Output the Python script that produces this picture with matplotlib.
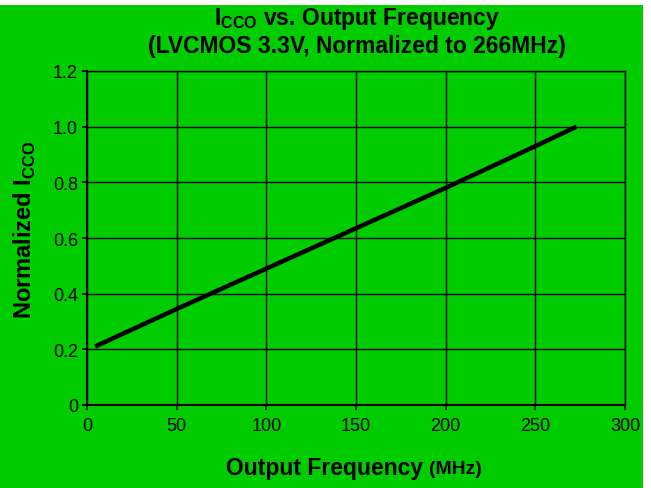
import matplotlib.pyplot as plt
from matplotlib.patches import Rectangle

plt.rcParams['font.family'] = ['Liberation Sans', 'DejaVu Sans']

# data
freq_mhz = [4.5, 50, 100, 150, 200, 250, 273]
icco_norm = [0.21, 0.345, 0.49, 0.635, 0.78, 0.93, 1.0]

x_ticks = [0, 50, 100, 150, 200, 250, 300]
y_ticks = [0, 0.2, 0.4, 0.6, 0.8, 1.0, 1.2]
y_labels = ['0', '0.2', '0.4', '0.6', '0.8', '1.0', '1.2']

green = '#00cc00'
W, H = 651, 489

fig = plt.figure(figsize=(W / 100, H / 100), dpi=100, facecolor='white')
fig.patches.append(Rectangle((0, 0), 643 / W, 483 / H, transform=fig.transFigure,
                             facecolor=green, edgecolor='none', zorder=-10))

ax = fig.add_axes([87 / W, (H - 406) / H, 538 / W, 334 / H])
ax.set_facecolor(green)
ax.plot(freq_mhz, icco_norm, color='black', lw=3.2, solid_capstyle='butt')

ax.set_xlim(0, 300)
ax.set_ylim(0, 1.2)
ax.set_xticks(x_ticks)
ax.set_yticks(y_ticks)
ax.set_yticklabels(y_labels)
ax.grid(True, color='black', lw=1.0)
ax.set_axisbelow(True)
for s in ax.spines.values():
    s.set_linewidth(1.0)
ax.spines['left'].set_linewidth(1.5)
ax.spines['bottom'].set_linewidth(1.5)
ax.tick_params(axis='both', direction='out', length=3.5, width=1.2, labelsize=13,
               colors='black')
ax.tick_params(axis='x', pad=5)
ax.tick_params(axis='y', pad=3)

fig.text(357 / W, 1 - 19 / H, r'I$_{\mathregular{CCO}}$ vs. Output Frequency',
         ha='center', va='center', fontsize=16.5, fontweight='bold')
fig.text(357 / W, 1 - 46 / H, '(LVCMOS 3.3V, Normalized to 266MHz)',
         ha='center', va='center', fontsize=16.5, fontweight='bold')

fig.text(429 / W, 1 - 469 / H, 'Output Frequency ', ha='right', va='center',
         fontsize=16.5, fontweight='bold')
fig.text(429 / W, 1 - 470 / H, '(MHz)', ha='left', va='center',
         fontsize=14, fontweight='bold')

fig.text(25 / W, 1 - 230 / H, r'Normalized I$_{\mathregular{CCO}}$', ha='center',
         va='center', rotation=90, fontsize=17, fontweight='bold')

fig.savefig('out.png', dpi=100, facecolor='white')
